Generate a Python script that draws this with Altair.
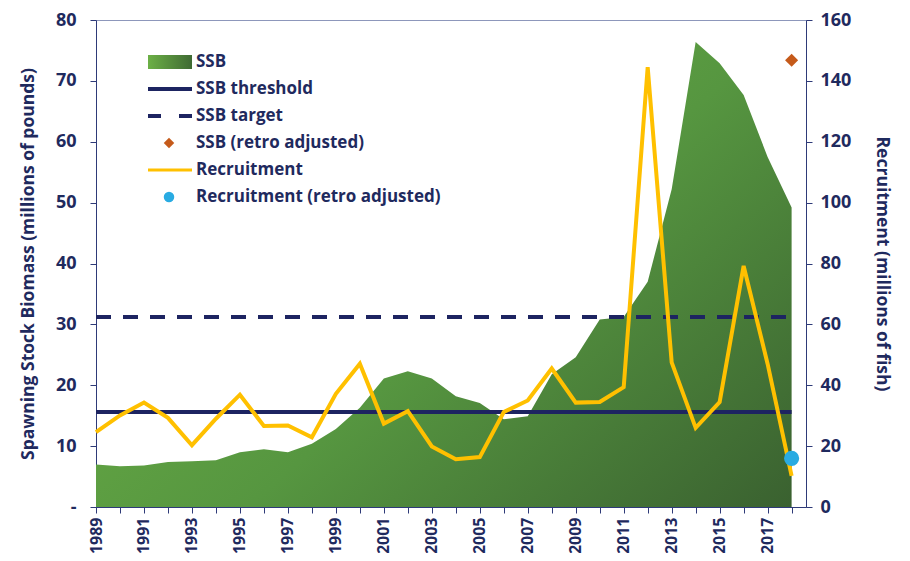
import altair as alt
import pandas as pd

# ---------------- data ----------------
years = list(range(1989, 2019))
ssb = [7.0, 6.7, 6.8, 7.4, 7.5, 7.7, 9.0, 9.5, 9.0, 10.4, 12.8, 16.3, 21.1, 22.3, 21.1,
       18.2, 17.1, 14.4, 14.9, 21.8, 24.6, 30.8, 31.2, 37.0, 52.2, 76.4, 72.9, 67.7, 57.5, 49.2]
recruitment = [24.6, 30.1, 34.3, 29.3, 20.3, 29.0, 36.9, 26.6, 26.8, 22.9, 37.2, 47.1, 27.4,
               31.5, 19.9, 15.7, 16.4, 31.2, 35.0, 45.5, 34.3, 34.5, 39.4, 144.5, 47.5, 26.0,
               34.5, 79.2, 47.0, 10.2]
ssb_threshold = 15.6
ssb_target = 31.2
retro_year = [2018]
ssb_retro = [73.4]
rec_retro = [16.0]

legend_labels = ["SSB", "SSB threshold", "SSB target", "SSB (retro adjusted)",
                 "Recruitment", "Recruitment (retro adjusted)"]

df = pd.DataFrame({"year": years, "ssb": ssb, "rec": recruitment})
df["thr"] = ssb_threshold
df["tgt"] = ssb_target
df_ssb_retro = pd.DataFrame({"year": retro_year, "ssb": ssb_retro})
df_rec_retro = pd.DataFrame({"year": retro_year, "rec": rec_retro})

FONT = "Open Sans"
NAVY = "#1f2a5e"
LINE_NAVY = "#1d2461"
YELLOW = "#ffc000"
ORANGE = "#c55a1a"
BLUE = "#29abe2"

area_grad = alt.Gradient(
    gradient="linear",
    stops=[alt.GradientStop(color="#6cb046", offset=0),
           alt.GradientStop(color="#569640", offset=0.5),
           alt.GradientStop(color="#3a6130", offset=1)],
    x1=0, y1=0.25, x2=1, y2=1,
)
swatch_grad = alt.Gradient(
    gradient="linear",
    stops=[alt.GradientStop(color="#6cb046", offset=0),
           alt.GradientStop(color="#3f6a33", offset=1)],
    x1=0, y1=0, x2=1, y2=0,
)

# ---------------- scales / axes ----------------
x_scale = alt.Scale(domain=[1989, 2018.6], nice=False, zero=False)
x_axis = alt.Axis(values=years, format="d",
                  labelExpr="datum.value % 2 == 1 ? datum.label : ''",
                  labelAngle=-90, labelFontSize=16, labelPadding=4,
                  title=None, grid=False, tickSize=6)
x_enc = alt.X("year:Q", scale=x_scale, axis=x_axis)

yl_scale = alt.Scale(domain=[0, 80], nice=False, zero=True)
yl_axis = alt.Axis(values=list(range(0, 81, 10)),
                   labelExpr="datum.value == 0 ? '-' : datum.label",
                   title="Spawning Stock Biomass (millions of pounds)",
                   titlePadding=18, grid=False, tickSize=6, labelPadding=14)
yr_scale = alt.Scale(domain=[0, 160], nice=False, zero=True)
yr_axis = alt.Axis(values=list(range(0, 161, 20)), orient="right",
                   title="Recruitment (millions of fish)",
                   titlePadding=22, grid=False, tickSize=6, labelPadding=8)


def yl(field):
    return alt.Y(f"{field}:Q", scale=yl_scale, axis=yl_axis)


def yr(field):
    return alt.Y(f"{field}:Q", scale=yr_scale, axis=yr_axis)


# ---------------- left-axis layers ----------------
area = alt.Chart(df).mark_area(color=area_grad, opacity=1).encode(x=x_enc, y=yl("ssb"))
thr = alt.Chart(df).mark_line(color=LINE_NAVY, strokeWidth=4).encode(x=x_enc, y=yl("thr"))
tgt = alt.Chart(df).mark_line(color=LINE_NAVY, strokeWidth=4, strokeDash=[15, 12]).encode(
    x=x_enc, y=yl("tgt"))
diamond = alt.Chart(df_ssb_retro).mark_point(shape="diamond", filled=True, size=170,
                                              color=ORANGE, opacity=1).encode(
    x=x_enc, y=yl("ssb"))

# ---------------- legend (pixel positions inside plot) ----------------
row_y = [42, 69, 96, 123, 150, 177]
leg = []
one = pd.DataFrame({"k": [0]})
leg.append(alt.Chart(one).mark_rect(color=swatch_grad).encode(
    x=alt.value(52), x2=alt.value(96), y=alt.value(row_y[0] - 7), y2=alt.value(row_y[0] + 7)))
leg.append(alt.Chart(one).mark_rule(color=LINE_NAVY, strokeWidth=4).encode(
    x=alt.value(52), x2=alt.value(96), y=alt.value(row_y[1])))
leg.append(alt.Chart(one).mark_rule(color=LINE_NAVY, strokeWidth=4, strokeDash=[13, 18]).encode(
    x=alt.value(52), x2=alt.value(96), y=alt.value(row_y[2])))
leg.append(alt.Chart(one).mark_point(shape="diamond", filled=True, size=110, color=ORANGE,
                                     opacity=1).encode(
    x=alt.value(73), y=alt.value(row_y[3])))
leg.append(alt.Chart(one).mark_rule(color=YELLOW, strokeWidth=3).encode(
    x=alt.value(52), x2=alt.value(96), y=alt.value(row_y[4])))
leg.append(alt.Chart(one).mark_point(shape="circle", filled=True, size=110, color=BLUE,
                                     opacity=1).encode(
    x=alt.value(73), y=alt.value(row_y[5])))
for lab, yy in zip(legend_labels, row_y):
    leg.append(alt.Chart(one).mark_text(align="left", baseline="middle", font=FONT,
                                        fontSize=17, fontWeight="bold", color=NAVY).encode(
        x=alt.value(100), y=alt.value(yy), text=alt.value(lab)))

left = alt.layer(area, thr, tgt, diamond)

# ---------------- right-axis layers ----------------
rec = alt.Chart(df).mark_line(color=YELLOW, strokeWidth=4).encode(x=x_enc, y=yr("rec"))
dot = alt.Chart(df_rec_retro).mark_point(shape="circle", filled=True, size=230, color=BLUE,
                                         opacity=1).encode(x=x_enc, y=yr("rec"))
right = alt.layer(rec, dot)

chart = alt.layer(left, right, *leg).resolve_scale(y="independent").properties(
    width=710, height=487,
    autosize=alt.AutoSizeParams(type="none"),
    padding={"left": 88, "top": 12, "right": 96, "bottom": 46},
).configure_view(stroke="#8d97bb", strokeWidth=1).configure_axis(
    labelFont=FONT, labelFontSize=18, labelFontWeight="bold", labelColor=NAVY,
    titleFont=FONT, titleFontSize=17.5, titleFontWeight="bold", titleColor=NAVY,
    domainColor="#2e3a78", tickColor="#2e3a78", domainWidth=1, tickWidth=1,
)

chart.save("out.html", embed_options={"renderer": "svg", "actions": False})
